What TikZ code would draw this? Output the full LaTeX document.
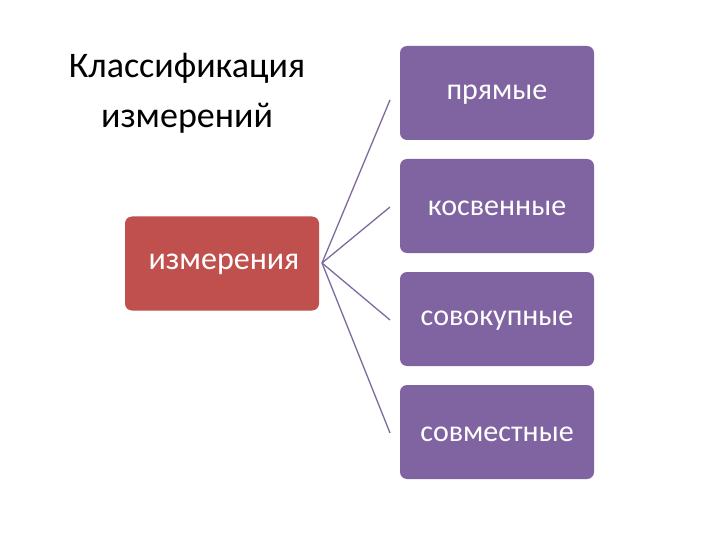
\documentclass[tikz,border=0pt]{standalone}
\usepackage{fontspec}
\setmainfont{Carlito}
\definecolor{cred}{HTML}{C0504D}
\definecolor{cpur}{HTML}{8064A2}
\definecolor{cline}{HTML}{7E6A9C}
\begin{document}
\begin{tikzpicture}[x=1pt,y=-1pt,
  box/.style={rounded corners=7pt,minimum width=194pt,minimum height=94pt,inner sep=0pt,text=white},
  conn/.style={draw=cline,line width=1.3pt}]
\useasboundingbox[fill=white] (0,0) rectangle (720,540);
\node[align=center,font=\fontsize{36}{50}\selectfont] (title) at (187,93) {Классификация\\измерений};
\node[box,fill=cred,font=\fontsize{32}{38}\selectfont] (m) at (222,263.5) {};
\node[text=white,font=\fontsize{32}{38}\selectfont] (mt) at (224,264) {измерения};
\foreach \n/\y/\t in {a/93/прямые,b/206/косвенные,c/319/совокупные,d/432/совместные}{
  \node[box,fill=cpur] (\n) at (497,\y) {};
  \node[text=white,font=\fontsize{30}{36}\selectfont] (\n t) at (497,\y+2) {\t};
}
\coordinate (s) at (322,263);
\foreach \n/\y in {a/100,b/207,c/320,d/433}{
  \coordinate (e\n) at (390,\y);
  \draw[conn] (s) -- (e\n);
}
\end{tikzpicture}
\end{document}
